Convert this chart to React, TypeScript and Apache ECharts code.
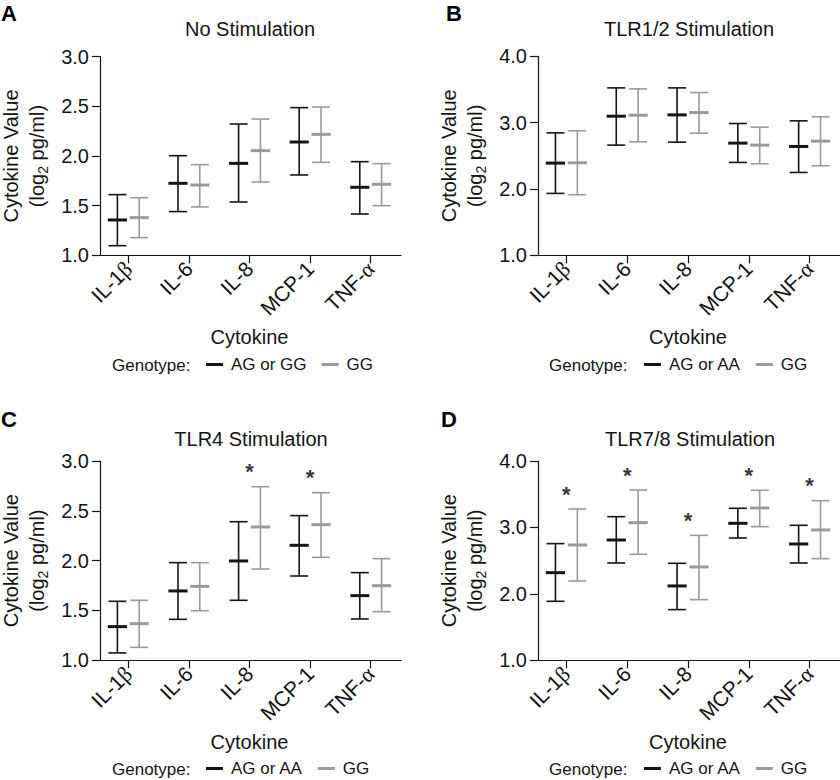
import React, { useEffect, useRef } from "react";
import * as echarts from "echarts";

const categories = ["IL-1β", "IL-6", "IL-8", "MCP-1", "TNF-α"];

// Panel A – No Stimulation
const aBlackMean = [1.356, 1.725, 1.926, 2.141, 1.685];
const aBlackLow = [1.097, 1.44, 1.537, 1.809, 1.416];
const aBlackHigh = [1.611, 2.003, 2.322, 2.487, 1.943];
const aGreyMean = [1.379, 1.708, 2.054, 2.218, 1.715];
const aGreyLow = [1.178, 1.487, 1.738, 1.936, 1.5];
const aGreyHigh = [1.58, 1.913, 2.372, 2.493, 1.923];

// Panel B – TLR1/2 Stimulation
const bBlackMean = [2.39, 3.097, 3.117, 2.691, 2.641];
const bBlackLow = [1.933, 2.661, 2.706, 2.4, 2.249];
const bBlackHigh = [2.846, 3.524, 3.524, 2.987, 3.027];
const bGreyMean = [2.395, 3.112, 3.152, 2.661, 2.721];
const bGreyLow = [1.913, 2.711, 2.841, 2.38, 2.35];
const bGreyHigh = [2.877, 3.509, 3.454, 2.932, 3.087];

// Panel C – TLR4 Stimulation
const cBlackMean = [1.338, 1.696, 1.997, 2.154, 1.649];
const cBlackLow = [1.074, 1.411, 1.602, 1.846, 1.415];
const cBlackHigh = [1.592, 1.98, 2.391, 2.452, 1.88];
const cGreyMean = [1.368, 1.742, 2.338, 2.361, 1.749];
const cGreyLow = [1.13, 1.498, 1.916, 2.033, 1.488];
const cGreyHigh = [1.602, 1.98, 2.742, 2.682, 2.02];
const cStars = [[2, 2.94], [3, 2.88]];

// Panel D – TLR7/8 Stimulation
const dBlackMean = [2.319, 2.811, 2.119, 3.062, 2.751];
const dBlackLow = [1.888, 2.465, 1.763, 2.841, 2.465];
const dBlackHigh = [2.756, 3.162, 2.46, 3.288, 3.032];
const dGreyMean = [2.736, 3.072, 2.405, 3.293, 2.962];
const dGreyLow = [2.194, 2.595, 1.913, 3.012, 2.53];
const dGreyHigh = [3.278, 3.564, 2.881, 3.559, 3.403];
const dStars = [[0, 3.574], [1, 3.855], [2, 3.177], [3, 3.855], [4, 3.704]];

const panelTitles = ["No Stimulation", "TLR1/2 Stimulation", "TLR4 Stimulation", "TLR7/8 Stimulation"];
const panelLetters = ["A", "B", "C", "D"];
const blackNames = ["AG or GG", "AG or AA", "AG or AA", "AG or AA"];
const greyName = "GG";
const yTicks = [
  { min: 1, max: 3, interval: 0.5 },
  { min: 1, max: 4, interval: 1 },
  { min: 1, max: 3, interval: 0.5 },
  { min: 1, max: 4, interval: 1 },
];

const FONT = "'Liberation Sans', Arial, Helvetica, sans-serif";
const BLACK = "#141414";
const GREY = "#9a9a9a";

const layout = [
  { left: 97, top: 56.7, width: 304, height: 198.6, cx: 245, titleTop: 14, letterX: 1, letterY: 2, legendLeft: 201, genoX: 112, legendY: 365 },
  { left: 536, top: 56.3, width: 304, height: 199, cx: 684, titleTop: 14, letterX: 446, letterY: 2, legendLeft: 639, genoX: 549, legendY: 365 },
  { left: 97, top: 461, width: 304, height: 199.3, cx: 246, titleTop: 424, letterX: 1, letterY: 408, legendLeft: 201, genoX: 112, legendY: 769 },
  { left: 536, top: 461, width: 304, height: 199.3, cx: 685, titleTop: 424, letterX: 441, letterY: 408, legendLeft: 639, genoX: 549, legendY: 769 },
];

function errSeries(name: string, color: string, idx: number, means: number[], lows: number[], highs: number[], side: number) {
  return {
    type: "custom",
    name,
    xAxisIndex: idx,
    yAxisIndex: idx,
    itemStyle: { color },
    data: categories.map((_, i) => [i, means[i], lows[i], highs[i]]),
    encode: { x: 0, y: [1, 2, 3] },
    renderItem: (params: any, api: any) => {
      const i = api.value(0);
      const m = api.coord([i, api.value(1)]);
      const lo = api.coord([i, api.value(2)]);
      const hi = api.coord([i, api.value(3)]);
      const band = api.size([1, 0])[0];
      const x = m[0] + side * band * 0.18;
      const hw = band * 0.148;
      const mw = band * 0.158;
      const st = { stroke: color, lineWidth: 1.6 };
      return {
        type: "group",
        children: [
          { type: "line", shape: { x1: x, y1: hi[1], x2: x, y2: lo[1] }, style: st },
          { type: "line", shape: { x1: x - hw, y1: hi[1], x2: x + hw, y2: hi[1] }, style: st },
          { type: "line", shape: { x1: x - hw, y1: lo[1], x2: x + hw, y2: lo[1] }, style: st },
          { type: "line", shape: { x1: x - mw, y1: m[1], x2: x + mw, y2: m[1] }, style: { stroke: color, lineWidth: 3 } },
        ],
      };
    },
  };
}

function starSeries(idx: number, stars: number[][]) {
  return {
    type: "scatter",
    name: "sig" + idx,
    xAxisIndex: idx,
    yAxisIndex: idx,
    symbolSize: 1,
    itemStyle: { color: "rgba(0,0,0,0)" },
    data: stars,
    label: {
      show: true,
      formatter: "*",
      position: "inside",
      offset: [0, 5],
      fontSize: 22,
      fontWeight: "bold",
      color: "#000",
      fontFamily: FONT,
    },
  };
}

export default function App() {
  const ref = useRef<HTMLDivElement>(null);
  useEffect(() => {
    document.body.style.margin = "0";
    if (!ref.current) return;
    const chart = echarts.init(ref.current, null, { renderer: "svg" });

    const grids = layout.map((l) => ({ left: l.left, top: l.top, width: l.width, height: l.height, containLabel: false }));
    const xAxes = layout.map((l, i) => ({
      type: "category",
      gridIndex: i,
      data: categories,
      boundaryGap: true,
      name: "Cytokine",
      nameLocation: "middle",
      nameGap: 72,
      nameTextStyle: { fontSize: 20, color: BLACK, fontFamily: FONT },
      axisLine: { show: true, lineStyle: { color: BLACK, width: 1.2 } },
      axisTick: { show: true, alignWithLabel: true, length: 8, lineStyle: { color: BLACK, width: 1.2 } },
      axisLabel: {
        interval: 0,
        rotate: 45,
        margin: 10,
        fontSize: 21,
        color: BLACK,
        fontFamily: FONT,
        formatter: (v: string) => v.replace("β", "{g|β}").replace("α", "{g|α}"),
        rich: { g: { fontSize: 22, fontFamily: "'Liberation Serif', 'DejaVu Serif', serif", color: BLACK } },
      },
      splitLine: { show: false },
    }));
    const yAxes = layout.map((l, i) => ({
      type: "value",
      gridIndex: i,
      min: yTicks[i].min,
      max: yTicks[i].max,
      interval: yTicks[i].interval,
      offset: -2,
      name: "{a|Cytokine Value}\n{a|(log}{s|2}{a| pg/ml)}",
      nameLocation: "middle",
      nameRotate: 90,
      nameGap: 50,
      nameTextStyle: {
        color: BLACK,
        fontFamily: FONT,
        rich: {
          a: { fontSize: 20, lineHeight: 26, color: BLACK, fontFamily: FONT },
          s: { fontSize: 14, lineHeight: 26, verticalAlign: "bottom", color: BLACK, fontFamily: FONT },
        },
      },
      axisLine: { show: true, lineStyle: { color: BLACK, width: 1.2 } },
      axisTick: { show: true, length: 8, lineStyle: { color: BLACK, width: 1.2 } },
      axisLabel: { fontSize: 20, color: BLACK, fontFamily: FONT, margin: 11, formatter: (v: number) => v.toFixed(1) },
      splitLine: { show: false },
    }));

    const series: any[] = [];
    const sets = [
      [aBlackMean, aBlackLow, aBlackHigh, aGreyMean, aGreyLow, aGreyHigh],
      [bBlackMean, bBlackLow, bBlackHigh, bGreyMean, bGreyLow, bGreyHigh],
      [cBlackMean, cBlackLow, cBlackHigh, cGreyMean, cGreyLow, cGreyHigh],
      [dBlackMean, dBlackLow, dBlackHigh, dGreyMean, dGreyLow, dGreyHigh],
    ];
    sets.forEach((s, i) => {
      series.push(errSeries(blackNames[i], BLACK, i, s[0], s[1], s[2], -1));
      series.push(errSeries(greyName, GREY, i, s[3], s[4], s[5], 1));
    });
    series.push(starSeries(2, cStars));
    series.push(starSeries(3, dStars));

    const titles = layout.map((l, i) => ({
      text: panelTitles[i],
      left: l.cx,
      top: l.titleTop,
      textAlign: "center",
      textStyle: { fontSize: 20, fontWeight: "normal", color: BLACK, fontFamily: FONT },
    }));

    const legends = layout.map((l, i) => ({
      left: l.legendLeft,
      top: l.legendY - 14,
      orient: "horizontal",
      icon: "rect",
      itemWidth: 17,
      itemHeight: 3,
      itemGap: 15,
      selectedMode: false,
      textStyle: { fontSize: 17, color: BLACK, fontFamily: FONT, padding: [0, 0, 0, 3] },
      data: [
        { name: blackNames[i], itemStyle: { color: BLACK } },
        { name: greyName, itemStyle: { color: GREY } },
      ],
    }));

    const graphics: any[] = [];
    layout.forEach((l, i) => {
      graphics.push({
        type: "text",
        left: l.letterX,
        top: l.letterY,
        style: { text: panelLetters[i], fontSize: 22, fontWeight: "bold", fill: "#000", fontFamily: FONT },
      });
      graphics.push({
        type: "text",
        x: l.genoX,
        y: l.legendY,
        style: { text: "Genotype:", fontSize: 17, fill: BLACK, fontFamily: FONT, verticalAlign: "middle", align: "left" },
      });
    });

    chart.setOption({
      animation: false,
      backgroundColor: "#ffffff",
      title: titles,
      grid: grids,
      xAxis: xAxes,
      yAxis: yAxes,
      legend: legends,
      graphic: graphics,
      series,
    });
    return () => chart.dispose();
  }, []);
  return <div ref={ref} style={{ width: 840, height: 780, position: "absolute", left: 0, top: 0 }} />;
}
